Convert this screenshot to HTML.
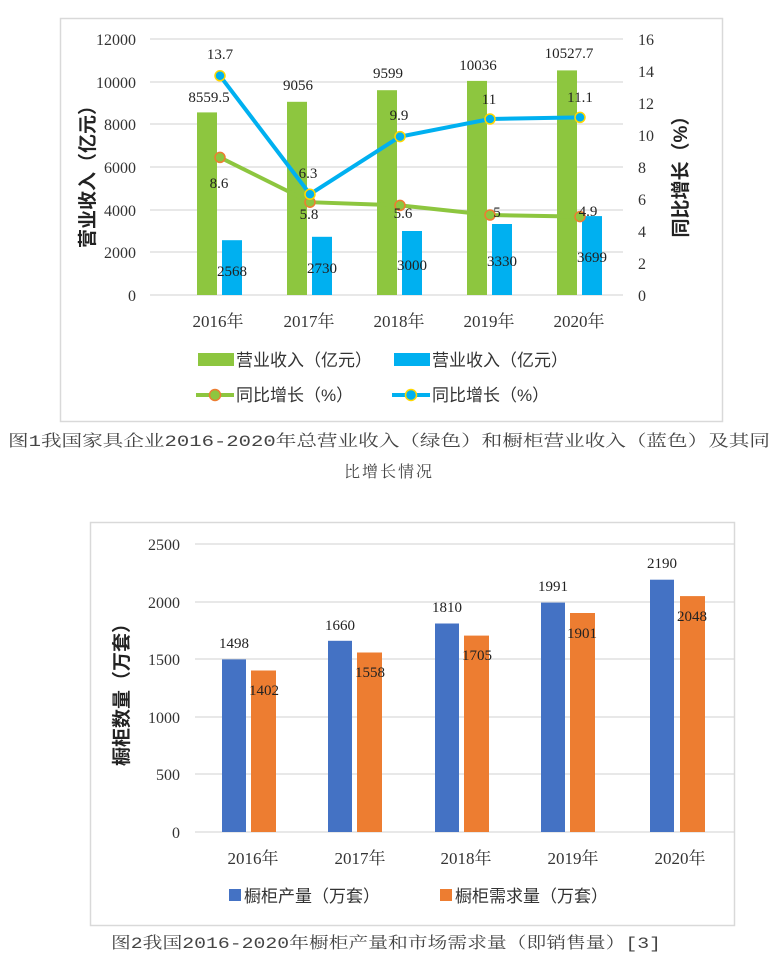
<!DOCTYPE html>
<html><head><meta charset="utf-8"><style>
html,body{margin:0;padding:0;background:#fff;}
svg{display:block;}
.s{font-family:"Liberation Serif","Noto Serif CJK SC",serif;}
.c{font-family:"Liberation Sans","Noto Sans CJK SC",sans-serif;}
.cap{font-family:"Liberation Mono","Noto Serif CJK SC",serif;}
</style></head><body>
<svg width="778" height="968" viewBox="0 0 778 968" xmlns="http://www.w3.org/2000/svg">
<rect x="60.5" y="18.5" width="662" height="403" fill="#fff" stroke="#d9d9d9" stroke-width="1.5"/>
<g stroke="#d9d9d9" stroke-width="1.3">
<line x1="150" y1="39" x2="623" y2="39"/><line x1="150" y1="82" x2="623" y2="82"/>
<line x1="150" y1="124" x2="623" y2="124"/><line x1="150" y1="167" x2="623" y2="167"/>
<line x1="150" y1="210" x2="623" y2="210"/><line x1="150" y1="252" x2="623" y2="252"/>
<line x1="150" y1="295" x2="623" y2="295"/>
</g>
<g class="s" font-size="16" fill="#333" text-anchor="end">
<text x="136" y="45">12000</text><text x="136" y="88">10000</text><text x="136" y="130">8000</text>
<text x="136" y="173">6000</text><text x="136" y="216">4000</text><text x="136" y="258">2000</text><text x="136" y="301">0</text>
</g>
<g class="s" font-size="16" fill="#333">
<text x="638" y="45">16</text><text x="638" y="77">14</text><text x="638" y="109">12</text><text x="638" y="141">10</text>
<text x="638" y="173">8</text><text x="638" y="205">6</text><text x="638" y="237">4</text><text x="638" y="269">2</text><text x="638" y="301">0</text>
</g>
<text class="c" font-size="19" font-weight="bold" fill="#222" text-anchor="middle" transform="translate(94,172) rotate(-90)">营业收入（亿元）</text>
<text class="c" font-size="19" font-weight="bold" fill="#222" text-anchor="middle" transform="translate(687,172) rotate(-90)">同比增长（%）</text>
<g fill="#8DC63F">
<rect x="197" y="112.4" width="20" height="182.6"/>
<rect x="287" y="101.8" width="20" height="193.2"/>
<rect x="377" y="90.2" width="20" height="204.8"/>
<rect x="467" y="80.9" width="20" height="214.1"/>
<rect x="557" y="70.4" width="20" height="224.6"/>
</g>
<g fill="#00B0F0">
<rect x="222" y="240.2" width="20" height="54.8"/>
<rect x="312" y="236.8" width="20" height="58.2"/>
<rect x="402" y="231" width="20" height="64"/>
<rect x="492" y="224" width="20" height="71"/>
<rect x="582" y="216.1" width="20" height="78.9"/>
</g>
<polyline points="220,157.4 310,202.2 400,205.4 490,215 580,216.6" fill="none" stroke="#8DC63F" stroke-width="4"/>
<g fill="#8DC63F" stroke="#ED7D31" stroke-width="1.5">
<circle cx="220" cy="157.4" r="5"/><circle cx="310" cy="202.2" r="5"/><circle cx="400" cy="205.4" r="5"/><circle cx="490" cy="215" r="5"/><circle cx="580" cy="216.6" r="5"/>
</g>
<polyline points="220,75.8 310,194.2 400,136.6 490,119 580,117.4" fill="none" stroke="#00B0F0" stroke-width="4"/>
<g fill="#00B0F0" stroke="#FFD700" stroke-width="1.5">
<circle cx="220" cy="75.8" r="5"/><circle cx="310" cy="194.2" r="5"/><circle cx="400" cy="136.6" r="5"/><circle cx="490" cy="119" r="5"/><circle cx="580" cy="117.4" r="5"/>
</g>
<g class="s" font-size="15" fill="#222" text-anchor="middle">
<text x="209" y="102">8559.5</text><text x="298" y="90">9056</text><text x="388" y="78">9599</text><text x="478" y="70">10036</text><text x="569" y="58">10527.7</text>
<text x="220" y="59">13.7</text><text x="219" y="188">8.6</text><text x="308" y="178">6.3</text><text x="309" y="219">5.8</text>
<text x="399" y="120">9.9</text><text x="403" y="218">5.6</text><text x="489" y="104">11</text><text x="497" y="217">5</text>
<text x="580" y="102">11.1</text><text x="588" y="216">4.9</text>
<text x="232" y="276">2568</text><text x="322" y="273">2730</text><text x="412" y="270">3000</text><text x="502" y="266">3330</text><text x="592" y="262">3699</text>
</g>
<g class="s" font-size="17" fill="#333" text-anchor="middle">
<text x="218" y="327">2016年</text><text x="309" y="327">2017年</text><text x="399" y="327">2018年</text><text x="489" y="327">2019年</text><text x="579" y="327">2020年</text>
</g>
<rect x="198" y="353" width="36" height="13" fill="#8DC63F"/>
<text class="c" x="236" y="366" font-size="17" fill="#333">营业收入（亿元）</text>
<rect x="394" y="353" width="36" height="13" fill="#00B0F0"/>
<text class="c" x="432" y="366" font-size="17" fill="#333">营业收入（亿元）</text>
<line x1="196" y1="395" x2="234" y2="395" stroke="#8DC63F" stroke-width="4"/>
<circle cx="215" cy="395" r="5.5" fill="#8DC63F" stroke="#ED7D31" stroke-width="1.5"/>
<text class="c" x="236" y="401" font-size="17" fill="#333">同比增长（%）</text>
<line x1="392" y1="395" x2="430" y2="395" stroke="#00B0F0" stroke-width="4"/>
<circle cx="411" cy="395" r="5.5" fill="#00B0F0" stroke="#FFD700" stroke-width="1.5"/>
<text class="c" x="432" y="401" font-size="17" fill="#333">同比增长（%）</text>
<text class="cap" x="8" y="446" font-size="16" fill="#444" textLength="762" lengthAdjust="spacingAndGlyphs">图1我国家具企业2016-2020年总营业收入（绿色）和橱柜营业收入（蓝色）及其同</text>
<text class="cap" x="389" y="477" font-size="16" fill="#444" text-anchor="middle" letter-spacing="2">比增长情况</text>

<rect x="90.5" y="522.5" width="644" height="403" fill="#fff" stroke="#d9d9d9" stroke-width="1.5"/>
<g stroke="#d9d9d9" stroke-width="1.3">
<line x1="195" y1="544" x2="735" y2="544"/><line x1="195" y1="602" x2="735" y2="602"/>
<line x1="195" y1="659" x2="735" y2="659"/><line x1="195" y1="717" x2="735" y2="717"/>
<line x1="195" y1="774" x2="735" y2="774"/><line x1="195" y1="832" x2="735" y2="832"/>
</g>
<g class="s" font-size="16" fill="#333" text-anchor="end">
<text x="180" y="550">2500</text><text x="180" y="608">2000</text><text x="180" y="665">1500</text>
<text x="180" y="723">1000</text><text x="180" y="780">500</text><text x="180" y="838">0</text>
</g>
<text class="c" font-size="19" font-weight="bold" fill="#222" text-anchor="middle" transform="translate(128,690) rotate(-90)">橱柜数量（万套）</text>
<g fill="#4472C4">
<rect x="222" y="659.4" width="24" height="172.6"/>
<rect x="328" y="640.8" width="24" height="191.2"/>
<rect x="435" y="623.5" width="24" height="208.5"/>
<rect x="541" y="602.6" width="24" height="229.4"/>
<rect x="650" y="579.7" width="24" height="252.3"/>
</g>
<g fill="#ED7D31">
<rect x="251" y="670.5" width="25" height="161.5"/>
<rect x="357" y="652.5" width="25" height="179.5"/>
<rect x="464" y="635.6" width="25" height="196.4"/>
<rect x="570" y="613" width="25" height="219"/>
<rect x="680" y="596.1" width="25" height="235.9"/>
</g>
<g class="s" font-size="15" fill="#222" text-anchor="middle">
<text x="234" y="648">1498</text><text x="340" y="630">1660</text><text x="447" y="612">1810</text><text x="553" y="591">1991</text><text x="662" y="568">2190</text>
<text x="264" y="695">1402</text><text x="370" y="677">1558</text><text x="477" y="660">1705</text><text x="582" y="638">1901</text><text x="692" y="621">2048</text>
</g>
<g class="s" font-size="17" fill="#333" text-anchor="middle">
<text x="253" y="864">2016年</text><text x="360" y="864">2017年</text><text x="466" y="864">2018年</text><text x="573" y="864">2019年</text><text x="680" y="864">2020年</text>
</g>
<rect x="229" y="889" width="12" height="12" fill="#4472C4"/>
<text class="c" x="244" y="902" font-size="17" fill="#333">橱柜产量（万套）</text>
<rect x="440" y="889" width="12" height="12" fill="#ED7D31"/>
<text class="c" x="455" y="902" font-size="17" fill="#333">橱柜需求量（万套）</text>
<text class="cap" x="111" y="948" font-size="16" fill="#444" textLength="550" lengthAdjust="spacingAndGlyphs">图2我国2016-2020年橱柜产量和市场需求量（即销售量）[3]</text>
</svg>
</body></html>
